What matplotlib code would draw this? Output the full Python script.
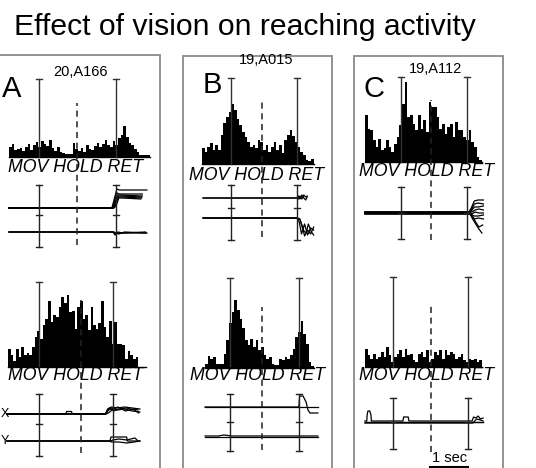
import matplotlib
matplotlib.use("Agg")
import matplotlib.pyplot as plt
import numpy as np
from matplotlib.patches import Rectangle
from matplotlib.lines import Line2D

plt.rcParams['font.family'] = ['Liberation Sans', 'DejaVu Sans']

W, H = 536, 468
PX_PER_SEC = 38.0      # horizontal scale shared by every unit (1 sec bar)
BIN_SEC = 0.07         # histogram bin width
CAP = 3.0 / PX_PER_SEC

title = "Effect of vision on reaching activity"
panel_letters = ["A", "B", "C"]
cell_ids = ["20,A166", "19,A015", "19,A112"]
event_text = "MOV HOLD RET"

# firing rate histograms (spikes/s), top row = light, bottom row = dark
a_light_rate = [10, 13, 7, 8, 9, 6, 10, 13, 7, 12, 15, 10, 16, 13, 11, 17, 9, 6,
                10, 5, 4, 3, 3, 3, 14, 8, 6, 9, 5, 12, 8, 7, 11, 14, 10, 13, 17, 12,
                10, 16, 12, 19, 22, 31, 20, 14, 12, 8, 5, 2, 2, 2, 2]
a_dark_rate = [18, 12, 6, 18, 10, 20, 12, 14, 12, 20, 30, 36, 28, 42, 48, 66, 45,
               52, 50, 60, 70, 64, 72, 55, 56, 38, 60, 66, 48, 52, 37, 60, 42, 38,
               44, 66, 40, 30, 46, 23, 45, 23, 23, 22, 8, 16, 12, 8, 10, 0, 0, 0]
b_light_rate = [16, 12, 17, 21, 14, 19, 14, 29, 41, 47, 52, 60, 54, 45, 39, 32, 27,
                22, 17, 19, 16, 24, 22, 14, 19, 12, 17, 22, 14, 19, 11, 24, 29, 34,
                28, 22, 17, 12, 9, 4, 3, 5]
b_dark_rate = [4, 12, 9, 11, 4, 4, 4, 14, 28, 45, 56, 68, 58, 49, 40, 28, 23, 29,
               21, 28, 18, 21, 13, 9, 11, 4, 3, 3, 9, 8, 11, 9, 13, 19, 31, 36, 47,
               34, 24, 6, 2]
c_light_rate = [47, 33, 32, 22, 15, 23, 12, 14, 22, 15, 10, 18, 25, 37, 58, 80, 45,
                47, 38, 32, 47, 33, 42, 30, 60, 55, 55, 45, 33, 38, 28, 35, 38, 25,
                40, 32, 32, 25, 22, 32, 20, 15, 5, 2]
c_dark_rate = [18, 12, 8, 13, 8, 10, 15, 10, 20, 12, 5, 10, 13, 17, 10, 18, 12, 13,
               7, 5, 13, 15, 10, 17, 5, 8, 15, 12, 17, 8, 17, 12, 15, 13, 8, 10, 13,
               7, 5, 8, 7, 8, 5, 7]

# histogram start and event times (s, relative to HOLD onset)
light_start = [-1.79, -1.58, -1.74]
dark_start = [-1.92, -1.50, -1.74]
light_mov = [-1.00, -0.82, -0.79]
light_ret = [1.03, 0.92, 0.95]
dark_mov = [-1.11, -0.84, -1.00]
dark_ret = [0.84, 0.97, 0.97]

# hand position traces: (times in s, displacement) per trial
a_light_x = [([-1.79, 0.92, 0.98, 1.05, 1.12, 1.84], [0, 0, 9, 19, 18, 18]),
             ([-1.79, 0.92, 0.98, 1.05, 1.12, 1.72], [0, 0, 6, 15, 14, 14]),
             ([-1.79, 0.94, 1.00, 1.06, 1.14, 1.72], [0, 0, 5, 13, 13, 12]),
             ([-1.79, 0.95, 1.01, 1.08, 1.16, 1.70], [0, 0, 4, 12, 12, 11]),
             ([-1.79, 0.96, 1.02, 1.09, 1.18, 1.70], [0, 0, 3, 11, 11, 10]),
             ([-1.79, 0.97, 1.03, 1.10, 1.20, 1.68], [0, 0, 2, 10, 10, 9])]
a_light_y = [([-1.79, 0.95, 1.00, 1.08, 1.20, 1.84], [0, 0, -3, -1, -1, -1]),
             ([-1.79, 0.95, 1.00, 1.08, 1.20, 1.80], [0, 0, -2, 0, -1, 0]),
             ([-1.79, 0.97, 1.03, 1.10, 1.25, 1.82], [0, 0, -1, -2, 0, -1])]
a_dark_x = [([-1.95, -0.40, -0.38, -0.25, -0.23, 0.64, 0.70, 0.80, 0.95, 1.15, 1.35, 1.55],
             [0, 0, 2.5, 2.5, 0, 0, 5, 7, 6, 7, 6, 5]),
            ([-1.95, 0.64, 0.70, 0.80, 0.95, 1.15, 1.35, 1.55], [0, 0, 3, 6, 4, 5, 3, 2]),
            ([-1.95, 0.66, 0.72, 0.82, 0.97, 1.17, 1.37, 1.50], [0, 0, 1, 4, 7, 3, 5, 4]),
            ([-1.95, 0.66, 0.74, 0.86, 1.00, 1.20, 1.40, 1.52], [0, 0, 6, 3, 5, 6, 4, 1])]
a_dark_y = [([-1.95, 0.76, 0.79, 1.00, 1.20, 1.22, 1.40, 1.55], [0, 0, 4, 4, 4, 0, 0, 0]),
            ([-1.95, 0.76, 0.80, 1.00, 1.20, 1.40, 1.55], [0, 0, -1, -1, -2, -1, 0]),
            ([-1.95, 0.78, 0.84, 1.00, 1.20, 1.42, 1.50], [0, 0, 1, 2, 1, 3, 0])]
b_light_x = [([-1.55, 0.92, 0.96, 1.00, 1.05, 1.10, 1.15, 1.19], [0, 0, 2, -1, 3, 0, -2, 1]),
             ([-1.55, 0.92, 0.96, 1.00, 1.05, 1.10, 1.15, 1.19], [0, 0, -1, 2, -1, 3, 1, 2])]
b_light_y = [([-1.55, 0.92, 0.98, 1.04, 1.12, 1.20, 1.28, 1.36], [0, 0, -4, -16, -6, -17, -10, -12]),
             ([-1.55, 0.92, 1.00, 1.06, 1.12, 1.20, 1.28, 1.36], [0, 0, -2, -8, -18, -12, -16, -9]),
             ([-1.55, 0.94, 1.00, 1.08, 1.16, 1.22, 1.30, 1.36], [0, 0, -1, -12, -15, -6, -14, -17])]
b_dark_x = [([-1.5, 0.97, 0.99, 1.08, 1.16, 1.21, 1.26, 1.47], [0, 0, 11, 11, 5, -3, -6, -6]),
            ([-1.5, 1.47], [0, 0])]
b_dark_y = [([-1.5, -1.15, -1.0, -0.8, 1.47], [0, 0, 1, 0, 0]),
            ([-1.5, 1.47], [-0.5, -0.5])]
c_light_x = [([-1.74, 1.00, 1.06, 1.14, 1.24, 1.38], [1, 1, 5, 12, 13, 13]),
             ([-1.74, 1.00, 1.06, 1.14, 1.24, 1.38], [0, 0, 3, 9, 10, 9]),
             ([-1.74, 1.00, 1.06, 1.14, 1.24, 1.38], [-1, -1, 2, 6, 6, 7]),
             ([-1.74, 1.02, 1.08, 1.16, 1.26, 1.38], [1, 1, 1, 3, 4, 3]),
             ([-1.74, 1.02, 1.08, 1.16, 1.26, 1.38], [0, 0, -1, 1, 0, 0])]
c_light_y = [([-1.74, 1.00, 1.06, 1.14, 1.24, 1.38], [-1, -1, -2, -3, -3, -2]),
             ([-1.74, 1.00, 1.06, 1.14, 1.24, 1.38], [0, 0, -3, -6, -5, -6]),
             ([-1.74, 1.02, 1.08, 1.16, 1.26, 1.34], [1, 1, -5, -10, -16, -20]),
             ([-1.74, 1.02, 1.08, 1.16, 1.26, 1.36], [0, 0, -2, -8, -14, -12])]
c_dark_x = [([-1.74, -1.69, -1.68, -1.66, -1.61, -1.58, -1.57, -0.74, -0.72, -0.60, -0.58,
              1.08, 1.12, 1.18, 1.24, 1.30, 1.37],
             [1, 1, 7, 11, 11, 7, 1, 1, 5, 5, 1, 1, 5, 4, 6, 3, 4]),
            ([-1.74, 1.37], [0, 0])]
c_dark_y = [([-1.74, 1.10, 1.20, 1.30, 1.37], [-1, -1, 3, 2, 1]),
            ([-1.74, 1.37], [0, 0])]

# layout in pixels: column extents and per-row vertical positions
columns = [(0, 160), (184, 331), (355, 502)]
frames = [(-3, 55, 160), (183, 56, 332), (354, 56, 503)]
light_layout = [
    dict(hold=77, base=157, top=79, lx=76, label=168, ttop=185, tbot=247, mid=215, xch=208, ych=232, dtop=103, dbot=245),
    dict(hold=262, base=164, top=78, lx=257, label=175, ttop=185, tbot=240, mid=208, xch=198, ych=218, dtop=102, dbot=237),
    dict(hold=431, base=162, top=77, lx=427, label=172, ttop=187, tbot=239, mid=213, xch=213, ych=213, dtop=100, dbot=240),
]
dark_layout = [
    dict(hold=81, base=367, top=282, lx=76, label=376, ttop=394, tbot=456, mid=424, xch=414, ych=441, dtop=300, dbot=453),
    dict(hold=262, base=367.5, top=278, lx=258, label=376, ttop=394, tbot=451, mid=422, xch=407, ych=436, dtop=307, dbot=450),
    dict(hold=431, base=367, top=277, lx=427, label=376, ttop=398, tbot=449, mid=422, xch=422, ych=422, dtop=305, dbot=452),
]

fig = plt.figure(figsize=(W / 100, H / 100), dpi=100)


def px_axes(x0, y0, x1, y1, z=1):
    ax = fig.add_axes([x0 / W, 1 - y1 / H, (x1 - x0) / W, (y1 - y0) / H], zorder=z)
    ax.set_axis_off()
    return ax


def draw_unit(col, lay, rate, start, mov, ret, x_trials, y_trials):
    x0, x1 = col
    hold = lay["hold"]
    tlim = ((x0 - hold) / PX_PER_SEC, (x1 - hold) / PX_PER_SEC)

    # peri-event histogram
    hx = px_axes(x0, lay["top"], x1, lay["base"])
    hx.set_xlim(tlim)
    ymax = lay["base"] - lay["top"]
    hx.set_ylim(0, ymax)
    edges = start + BIN_SEC * np.arange(len(rate) + 1)
    hx.stairs(rate, edges, fill=True, color="black", lw=0)
    hx.plot([edges[0], edges[-1]], [0, 0], color="black", lw=1.0, clip_on=False)
    for te in (mov, ret):
        hx.plot([te, te], [0, ymax], color="#333333", lw=1.0, clip_on=False)
        hx.plot([te - CAP, te + CAP], [ymax, ymax], color="#333333", lw=1.0, clip_on=False)

    # hand position traces
    tx = px_axes(x0, lay["ttop"], x1, lay["tbot"])
    tx.set_xlim(tlim)
    depth = lay["tbot"] - lay["ttop"]
    tx.set_ylim(-depth, 0)
    for trials, ch in ((x_trials, lay["xch"]), (y_trials, lay["ych"])):
        off = -(ch - lay["ttop"])
        for t, v in trials:
            tx.plot(t, np.asarray(v) + off, color="black", lw=0.9, clip_on=False)
    mid = -(lay["mid"] - lay["ttop"])
    for te in (mov, ret):
        tx.plot([te, te], [-depth, 0], color="#222222", lw=1.0, clip_on=False)
        for yc in (-depth, 0, mid):
            tx.plot([te - CAP, te + CAP], [yc, yc], color="#222222", lw=1.0, clip_on=False)

    # HOLD onset marker
    dx = px_axes(x0, lay["dtop"], x1, lay["dbot"], z=5)
    dx.set_xlim(tlim)
    dx.axvline(0, color="#222222", lw=1.1, ls=(0, (4, 3)))

    fig.text(lay["lx"] / W, 1 - lay["label"] / H, event_text, fontsize=12.8, style="italic",
             ha="center", va="center")


light_rates = [a_light_rate, b_light_rate, c_light_rate]
dark_rates = [a_dark_rate, b_dark_rate, c_dark_rate]
light_traces = [(a_light_x, a_light_y), (b_light_x, b_light_y), (c_light_x, c_light_y)]
dark_traces = [(a_dark_x, a_dark_y), (b_dark_x, b_dark_y), (c_dark_x, c_dark_y)]

for i in range(3):
    draw_unit(columns[i], light_layout[i], light_rates[i], light_start[i],
              light_mov[i], light_ret[i], *light_traces[i])
    draw_unit(columns[i], dark_layout[i], dark_rates[i], dark_start[i],
              dark_mov[i], dark_ret[i], *dark_traces[i])

# panel frames
for fx0, fy0, fx1 in frames:
    fig.patches.append(Rectangle((fx0 / W, -0.01), (fx1 - fx0) / W, 1 - fy0 / H + 0.01,
                                 transform=fig.transFigure, fill=False,
                                 edgecolor="#8a8a8a", lw=1.3))

# labels
fig.text(14 / W, 1 - 35 / H, title, fontsize=21.7, ha="left", va="baseline")
letter_pos = [(12, 89), (212, 85), (374, 89)]
id_pos = [(80, 72), (266, 60), (436, 69)]
for i in range(3):
    fig.text(letter_pos[i][0] / W, 1 - letter_pos[i][1] / H, panel_letters[i],
             fontsize=21, ha="center", va="center")
    fig.text(id_pos[i][0] / W, 1 - id_pos[i][1] / H, cell_ids[i],
             fontsize=10.5, ha="center", va="center")

fig.text(1 / W, 1 - 414 / H, "X", fontsize=9, ha="left", va="center")
fig.text(1 / W, 1 - 441 / H, "Y", fontsize=9, ha="left", va="center")

# 1 sec scale bar
fig.text(449.5 / W, 1 - 458 / H, "1 sec", fontsize=10.5, ha="center", va="center")
fig.lines.append(Line2D([430 / W, (430 + PX_PER_SEC) / W], [1 - 466.5 / H, 1 - 466.5 / H],
                        transform=fig.transFigure, color="black", lw=1.5))

fig.savefig("out.png", dpi=100)
